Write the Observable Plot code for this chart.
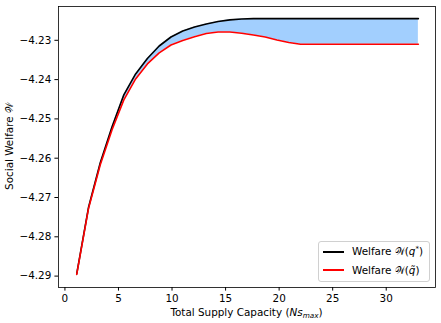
<!DOCTYPE html>
<html>
<head>
<meta charset="utf-8">
<script src="https://cdn.jsdelivr.net/npm/d3@7"></script>
<script src="https://cdn.jsdelivr.net/npm/@observablehq/plot@0.6"></script>
<style>
  html, body { margin: 0; padding: 0; background: #fff; }
  #wrap { position: relative; width: 441px; height: 323px; font-family: "DejaVu Sans", sans-serif; }
  #legend { position: absolute; left: 318px; top: 241px; width: 112px; height: 41px; box-sizing: border-box;
    border: 1px solid #d0d0d0; border-radius: 3px; background: rgba(255,255,255,0.8); font-size: 10.4px; color: #000; }
  .row { position: absolute; left: 0; height: 14px; display: flex; align-items: center; }
  .sw { display: inline-block; width: 21px; height: 1.6px; margin-left: 4px; margin-right: 8px; }
</style>
</head>
<body>
<div id="wrap"></div>
<script>
// Data
const supplyCapacity = [1.1, 2.2, 3.3, 4.4, 5.5, 6.6, 7.7, 8.8, 9.9, 11.0,
  12.1, 13.2, 14.3, 15.4, 16.5, 17.6, 18.7, 19.8, 20.9, 22.0,
  23.1, 24.2, 25.3, 26.4, 27.5, 28.6, 29.7, 30.8, 31.9, 33.0];
const welfareOptimal = [-4.28944, -4.27256, -4.26114, -4.25200, -4.24388, -4.23855, -4.23462, -4.23145, -4.22916, -4.22764,
  -4.22662, -4.22586, -4.22523, -4.22480, -4.22459, -4.22449, -4.22449, -4.22449, -4.22449, -4.22449,
  -4.22449, -4.22449, -4.22449, -4.22449, -4.22449, -4.22449, -4.22449, -4.22449, -4.22449, -4.22449];
const welfareApprox = [-4.28957, -4.27282, -4.26165, -4.25277, -4.24515, -4.23982, -4.23602, -4.23322, -4.23119, -4.23005,
  -4.22911, -4.22827, -4.22789, -4.22789, -4.22822, -4.22865, -4.22916, -4.22992, -4.23056, -4.23102,
  -4.23102, -4.23102, -4.23102, -4.23102, -4.23102, -4.23102, -4.23102, -4.23102, -4.23102, -4.23102];
const xTicks = [0, 5, 10, 15, 20, 25, 30];
const yTicks = [-4.29, -4.28, -4.27, -4.26, -4.25, -4.24, -4.23];
const seriesNames = ["Welfare 𝒲(q*)", "Welfare 𝒲(q̃)"];
const seriesColors = ["#000000", "#ff0000"];

const table = supplyCapacity.map((x, i) => ({x, opt: welfareOptimal[i], apx: welfareApprox[i]}));

const W = 441, H = 323;
const mL = 58, mR = 6, mT = 6, mB = 36;

const chart = Plot.plot({
  width: W, height: H,
  marginLeft: mL, marginRight: mR, marginTop: mT, marginBottom: mB,
  style: {fontFamily: "DejaVu Sans, sans-serif", fontSize: "10.4px", color: "#000", background: "#fff"},
  x: {domain: [-0.6, 34.6], ticks: xTicks, tickSize: 3.6, tickPadding: 3.5, tickFormat: d3.format("d"), label: null},
  y: {domain: [-4.2929, -4.2214], ticks: yTicks, tickSize: 3.6, tickPadding: 3.6, tickFormat: d3.format(".2f"), label: null},
  marks: [
    Plot.areaY(table, {x: "x", y1: "apx", y2: "opt", fill: "#a2cffe"}),
    Plot.line(table, {x: "x", y: "opt", stroke: seriesColors[0], strokeWidth: 1.6}),
    Plot.line(table, {x: "x", y: "apx", stroke: seriesColors[1], strokeWidth: 1.6}),
    Plot.frame({stroke: "#000", strokeWidth: 0.8})
  ]
});

const svg = d3.select(chart);
const cx = (mL + (W - mR)) / 2, cy = (mT + (H - mB)) / 2;
// x label
const xl = svg.append("text").attr("x", cx).attr("y", 316).attr("text-anchor", "middle")
  .attr("font-family", "DejaVu Sans, sans-serif").attr("font-size", "10.4px").attr("fill", "#000");
xl.append("tspan").text("Total Supply Capacity (");
xl.append("tspan").attr("font-style", "italic").text("Ns");
xl.append("tspan").attr("font-style", "italic").attr("font-size", "7.3px").attr("dy", "2").text("max");
xl.append("tspan").attr("dy", "-2").text(")");
// y label
svg.append("text").attr("transform", `translate(12.5,${cy}) rotate(-90)`).attr("text-anchor", "middle")
  .attr("font-family", "DejaVu Sans, sans-serif").attr("font-size", "10.4px").attr("fill", "#000")
  .text("Social Welfare 𝒲");

const wrap = document.getElementById("wrap");
wrap.appendChild(chart);

// legend
const leg = document.createElement("div");
leg.id = "legend";
seriesNames.forEach((name, i) => {
  const row = document.createElement("div");
  row.className = "row";
  row.style.top = (i === 0 ? 3 : 21) + "px";
  const sw = document.createElement("span");
  sw.className = "sw";
  sw.style.background = seriesColors[i];
  const t = document.createElement("span");
  if (i === 0) {
    t.innerHTML = "Welfare 𝒲(<i>q</i><sup style='font-size:7px'>*</sup>)";
  } else {
    t.innerHTML = "Welfare 𝒲(<i>q̃</i>)";
  }
  row.appendChild(sw);
  row.appendChild(t);
  leg.appendChild(row);
});
wrap.appendChild(leg);
</script>
</body>
</html>
